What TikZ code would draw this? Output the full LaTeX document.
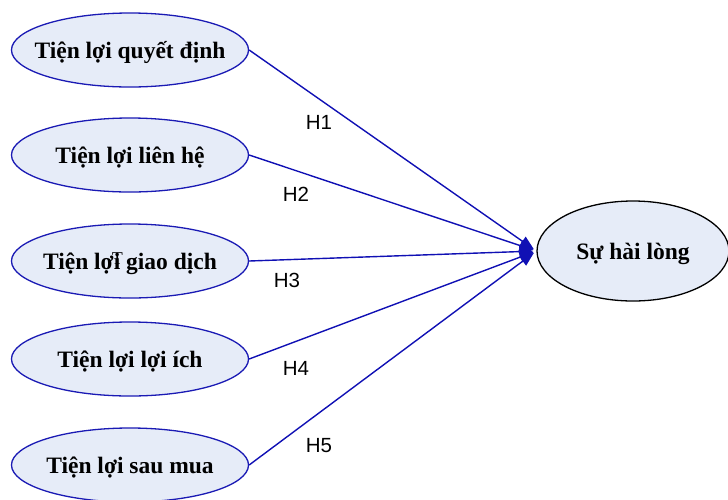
\documentclass[tikz,border=0pt]{standalone}
\usepackage{fontspec}
\setmainfont{Liberation Serif}
\newfontfamily\labelfont{Liberation Sans}
\usetikzlibrary{arrows.meta,shapes.geometric}
\definecolor{fillc}{HTML}{E6ECF8}
\definecolor{edgec}{HTML}{1A1AB4}
\definecolor{arrc}{HTML}{1010B4}
\newcommand\ctrtext[1]{\makebox[0pt]{\raisebox{-8pt}[0pt][0pt]{#1}}}
\begin{document}
\begin{tikzpicture}[x=1pt,y=-1pt]
\useasboundingbox (0,0) rectangle (728,499);
\tikzset{
  factor/.style={ellipse, draw=edgec, fill=fillc, line width=1.3pt,
    minimum width=237pt, minimum height=74pt, inner sep=0pt,
    font=\bfseries\fontsize{23.5}{24}\selectfont},
  outcome/.style={ellipse, draw=black, fill=fillc, line width=1.3pt,
    minimum width=192pt, minimum height=100pt, inner sep=0pt,
    font=\bfseries\fontsize{23.5}{24}\selectfont},
  arr/.style={draw=arrc, line width=1.4pt, shorten >=3pt,
    -{Triangle[length=14pt,width=11pt]}},
  hlabel/.style={font=\labelfont\fontsize{20.5}{21}\selectfont, inner sep=0pt}
}
\node[factor] (f1) at (130,50) {\ctrtext{Tiện lợi quyết định}};
\node[factor] (f2) at (130,155) {\ctrtext{Tiện lợi liên hệ}};
\node[factor] (f3) at (130,261) {\ctrtext{Tiện lợ\makebox[0pt][l]{\raisebox{5pt}{\mdseries\fontsize{18}{18}\selectfont\hspace{-2pt}T}}i giao dịch}};
\node[factor] (f4) at (130,359) {\ctrtext{Tiện lợi lợi ích}};
\node[factor] (f5) at (130,465) {\ctrtext{Tiện lợi sau mua}};
\node[outcome] (out) at (633,251) {\ctrtext{Sự hài lòng}};
\foreach \i in {1,...,5} { \draw[arr] (f\i.east) -- (out.west); }
\node[hlabel] (h1) at (319,122) {H1};
\node[hlabel] (h2) at (296,194) {H2};
\node[hlabel] (h3) at (287,280) {H3};
\node[hlabel] (h4) at (296,368) {H4};
\node[hlabel] (h5) at (319,446) {H5};
\end{tikzpicture}
\end{document}
